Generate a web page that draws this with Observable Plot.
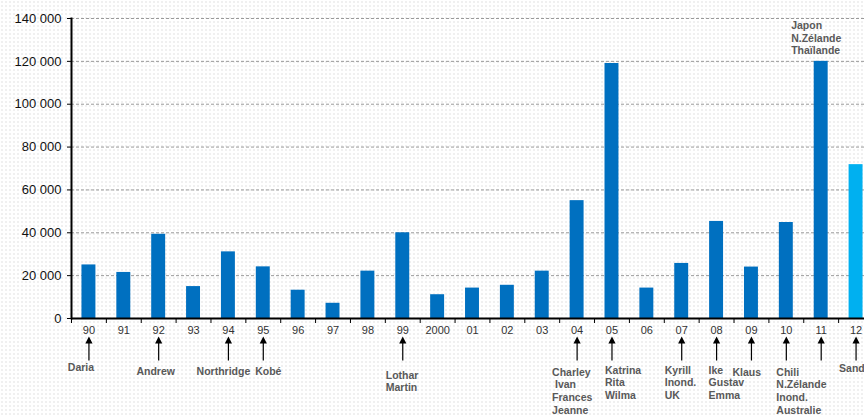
<!DOCTYPE html>
<html>
<head>
<meta charset="utf-8">
<script src="https://cdn.jsdelivr.net/npm/d3@7"></script>
<script src="https://cdn.jsdelivr.net/npm/@observablehq/plot@0.6"></script>
<style>
  html, body { margin: 0; padding: 0; overflow: hidden; }
  body {
    width: 864px; height: 416px;
    background-color: #fff;
    background-image: radial-gradient(circle, #f0f0f0 0.9px, transparent 1.3px);
    background-size: 4px 4px;
    font-family: "Liberation Sans", Arial, sans-serif;
  }
</style>
</head>
<body>
<div id="chart"></div>
<script>
// Insured losses per year (in millions), 1990–2012
const years = ["90","91","92","93","94","95","96","97","98","99","2000",
               "01","02","03","04","05","06","07","08","09","10","11","12"];
const losses = [25000, 21500, 39300, 14900, 31100, 24100, 13200, 7100, 22100, 40000, 11100,
                14200, 15500, 22100, 55000, 119000, 14200, 25700, 45300, 24000, 44800, 120000, 71800];

// Major events flagged under the axis
const eventYears = ["90","92","94","95","99","04","05","07","08","09","10","11","12"];
const eventNames = ["Daria", "Andrew", "Northridge", "Kobé", "Lothar\nMartin",
                    "Charley\n Ivan\nFrances\nJeanne", "Katrina\nRita\nWilma",
                    "Kyrill\nInond.\nUK", "Ike\nGustav\nEmma", "Klaus",
                    "Chili\nN.Zélande\nInond.\nAustralie", "", "Sandy"];

// 2011 events written above its bar
const topNote = {year: "11", text: "Japon\nN.Zélande\nThaïlande"};

const yTicks = [0, 20000, 40000, 60000, 80000, 100000, 120000, 140000];
const highlightYear = "12";

// Label placement (horizontal offset from category centre, vertical offset below axis, anchor)
const labelLayout = {
  "90": [-8, 43, "middle"], "92": [-3, 47, "middle"], "94": [-5, 47, "middle"],
  "95": [5, 47, "middle"], "99": [-17, 51, "start"], "04": [-25, 48, "start"],
  "05": [-7, 46, "start"], "07": [-17, 46, "start"], "08": [-8, 46, "start"],
  "09": [-19, 48, "start"], "10": [-10, 48, "start"], "11": [0, 0, "start"],
  "12": [-17, 44, "start"]
};

const bars = years.map((y, i) => ({year: y, value: losses[i]}));
const events = eventYears.map((y, i) => ({year: y, name: eventNames[i]}));

const fmt = d3.formatLocale({decimal: ",", thousands: " ", grouping: [3], currency: ["", ""]}).format(",");

// Upward arrow with filled head, centred on the origin
const arrowSymbol = {
  draw(ctx) {
    ctx.moveTo(0, -12);
    ctx.lineTo(3.6, -5);
    ctx.lineTo(0.6, -5);
    ctx.lineTo(0.6, 12);
    ctx.lineTo(-0.6, 12);
    ctx.lineTo(-0.6, -5);
    ctx.lineTo(-3.6, -5);
    ctx.closePath();
  }
};

const width = 884, marginLeft = 71, marginRight = 11;
const halfStep = (width - marginLeft - marginRight) / years.length / 2;

const textMarks = events.filter(e => e.name).map(e => {
  const [dx, dy, anchor] = labelLayout[e.year];
  return Plot.text([e], {
    x: "year", text: "name", frameAnchor: "bottom", dx, dy,
    textAnchor: anchor, lineAnchor: "top", lineHeight: 1.22,
    fontSize: 10.5, fontWeight: "bold", fill: "#595959"
  });
});

const chart = Plot.plot({
  width, height: 416,
  marginLeft, marginRight, marginTop: 18, marginBottom: 98,
  style: "max-width:none;background:transparent;font-family:'Liberation Sans',Arial,sans-serif;overflow:visible;",
  x: {type: "band", domain: years, paddingInner: 0.6, paddingOuter: 0.3, round: false, label: null},
  y: {domain: [0, 140000], label: null},
  marks: [
    Plot.ruleY(yTicks.filter(d => d > 0), {stroke: "#9a9a9a", strokeWidth: 1, strokeDasharray: "3,2"}),
    Plot.barY(bars, {
      x: "year", y: "value",
      fill: d => d.year === highlightYear ? "#00B0F0" : "#0070C0"
    }),
    Plot.axisY({ticks: yTicks, tickFormat: fmt, tickSize: 4, tickPadding: 6,
                fontSize: 13, fill: "#111", stroke: "#000", label: null}),
    // tick marks between categories
    Plot.axisX({tickSize: 5, text: null, dx: -halfStep, stroke: "#000", label: null}),
    Plot.axisX({tickSize: 0, tickPadding: 8, fontSize: 11, fill: "#333", label: null}),
    Plot.frame({anchor: "left", stroke: "#000", strokeWidth: 2}),
    Plot.ruleY([0], {stroke: "#000", strokeWidth: 2}),
    Plot.dot(events, {x: "year", frameAnchor: "bottom", dy: 30, symbol: arrowSymbol,
                      fill: "#000", stroke: null, r: 5}),
    ...textMarks,
    Plot.text([topNote], {
      x: "year", y: () => losses[years.indexOf(topNote.year)], text: "text",
      dx: -30, dy: -7, textAnchor: "start", lineAnchor: "bottom", lineHeight: 1.22,
      fontSize: 10.5, fontWeight: "bold", fill: "#595959"
    })
  ]
});

document.getElementById("chart").appendChild(chart);
</script>
</body>
</html>
